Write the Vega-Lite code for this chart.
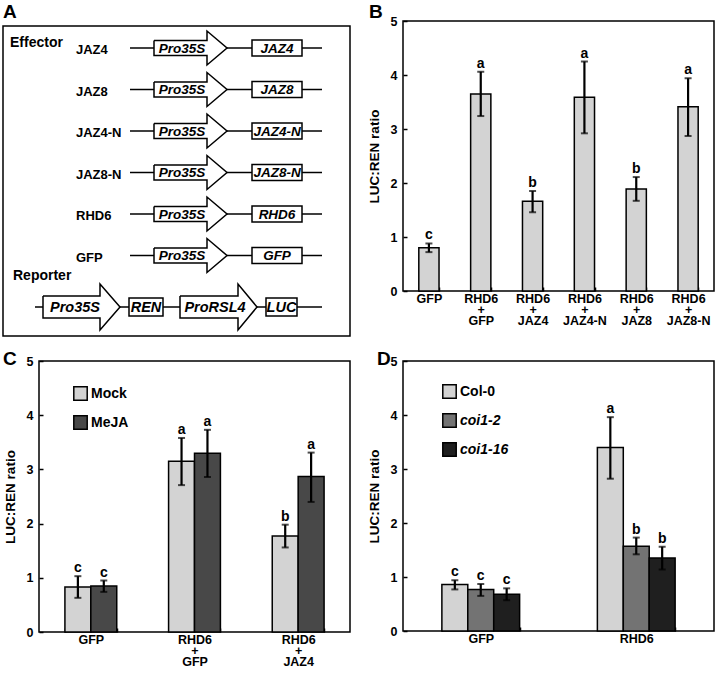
{
  "$schema": "https://vega.github.io/schema/vega-lite/v6.json",
  "background": "white",
  "padding": {"left": 2, "top": 2, "right": 0, "bottom": 0},
  "columns": 2,
  "bounds": "flush",
  "align": "each",
  "spacing": {"row": 29, "column": 53},
  "resolve": {
    "scale": {"x": "independent", "y": "independent", "color": "independent", "xOffset": "independent"},
    "legend": {"color": "independent"}
  },
  "config": {
    "font": "Liberation Sans",
    "view": {"stroke": "black", "strokeWidth": 1.5},
    "axis": {
      "labelFont": "Liberation Sans", "labelFontSize": 12.5, "labelFontWeight": "bold", "labelColor": "black",
      "titleFont": "Liberation Sans", "titleFontSize": 13.5, "titleFontWeight": "bold", "titleColor": "black",
      "domain": false, "grid": false, "ticks": true, "tickColor": "black", "tickWidth": 1.5, "tickSize": -4
    },
    "axisY": {"labelPadding": 10, "titlePadding": 9},
    "axisX": {"labelPadding": 5, "labelLineHeight": 11, "labelAngle": 0},
    "title": {"anchor": "start", "frame": "group", "fontSize": 19, "font": "Liberation Sans", "fontWeight": "bold", "color": "black", "baseline": "alphabetic"},
    "legend": {
      "symbolType": "square", "symbolSize": 180, "symbolStrokeColor": "black", "symbolStrokeWidth": 1.5,
      "labelFont": "Liberation Sans", "labelFontSize": 14, "labelFontWeight": "bold", "labelColor": "black",
      "rowPadding": 8, "labelOffset": 3, "padding": 0, "symbolOpacity": 1
    }
  },
  "datasets": {
    "aFrame": [{"x": 0, "x2": 347, "y": 1, "y2": 311}],
    "aLines": [
      {"x": 127, "x2": 151, "y": 23}, {"x": 224, "x2": 249, "y": 23}, {"x": 299, "x2": 319, "y": 23},
      {"x": 127, "x2": 151, "y": 64.5}, {"x": 224, "x2": 249, "y": 64.5}, {"x": 299, "x2": 319, "y": 64.5},
      {"x": 127, "x2": 151, "y": 106}, {"x": 224, "x2": 249, "y": 106}, {"x": 299, "x2": 319, "y": 106},
      {"x": 127, "x2": 151, "y": 147.5}, {"x": 224, "x2": 249, "y": 147.5}, {"x": 299, "x2": 319, "y": 147.5},
      {"x": 127, "x2": 151, "y": 189}, {"x": 224, "x2": 249, "y": 189}, {"x": 299, "x2": 319, "y": 189},
      {"x": 127, "x2": 151, "y": 230.5}, {"x": 224, "x2": 249, "y": 230.5}, {"x": 299, "x2": 319, "y": 230.5},
      {"x": 32, "x2": 40, "y": 282}, {"x": 117, "x2": 126, "y": 282}, {"x": 160, "x2": 177, "y": 282},
      {"x": 254, "x2": 263, "y": 282}, {"x": 294, "x2": 319, "y": 282}
    ],
    "aBoxes": [
      {"x": 249, "x2": 299, "y": 15, "y2": 31},
      {"x": 249, "x2": 299, "y": 56.5, "y2": 72.5},
      {"x": 249, "x2": 299, "y": 98, "y2": 114},
      {"x": 249, "x2": 299, "y": 139.5, "y2": 155.5},
      {"x": 249, "x2": 299, "y": 181, "y2": 197},
      {"x": 249, "x2": 299, "y": 222.5, "y2": 238.5},
      {"x": 126, "x2": 160, "y": 273, "y2": 291},
      {"x": 263, "x2": 294, "y": 273, "y2": 291}
    ],
    "aArrows": [
      {"id": 1, "i": 0, "x": 151, "y": 15.5}, {"id": 1, "i": 1, "x": 204, "y": 15.5}, {"id": 1, "i": 2, "x": 204, "y": 6}, {"id": 1, "i": 3, "x": 224, "y": 23}, {"id": 1, "i": 4, "x": 204, "y": 40}, {"id": 1, "i": 5, "x": 204, "y": 30.5}, {"id": 1, "i": 6, "x": 151, "y": 30.5}, {"id": 1, "i": 7, "x": 151, "y": 15.5},
      {"id": 2, "i": 0, "x": 151, "y": 57}, {"id": 2, "i": 1, "x": 204, "y": 57}, {"id": 2, "i": 2, "x": 204, "y": 47.5}, {"id": 2, "i": 3, "x": 224, "y": 64.5}, {"id": 2, "i": 4, "x": 204, "y": 81.5}, {"id": 2, "i": 5, "x": 204, "y": 72}, {"id": 2, "i": 6, "x": 151, "y": 72}, {"id": 2, "i": 7, "x": 151, "y": 57},
      {"id": 3, "i": 0, "x": 151, "y": 98.5}, {"id": 3, "i": 1, "x": 204, "y": 98.5}, {"id": 3, "i": 2, "x": 204, "y": 89}, {"id": 3, "i": 3, "x": 224, "y": 106}, {"id": 3, "i": 4, "x": 204, "y": 123}, {"id": 3, "i": 5, "x": 204, "y": 113.5}, {"id": 3, "i": 6, "x": 151, "y": 113.5}, {"id": 3, "i": 7, "x": 151, "y": 98.5},
      {"id": 4, "i": 0, "x": 151, "y": 140}, {"id": 4, "i": 1, "x": 204, "y": 140}, {"id": 4, "i": 2, "x": 204, "y": 130.5}, {"id": 4, "i": 3, "x": 224, "y": 147.5}, {"id": 4, "i": 4, "x": 204, "y": 164.5}, {"id": 4, "i": 5, "x": 204, "y": 155}, {"id": 4, "i": 6, "x": 151, "y": 155}, {"id": 4, "i": 7, "x": 151, "y": 140},
      {"id": 5, "i": 0, "x": 151, "y": 181.5}, {"id": 5, "i": 1, "x": 204, "y": 181.5}, {"id": 5, "i": 2, "x": 204, "y": 172}, {"id": 5, "i": 3, "x": 224, "y": 189}, {"id": 5, "i": 4, "x": 204, "y": 206}, {"id": 5, "i": 5, "x": 204, "y": 196.5}, {"id": 5, "i": 6, "x": 151, "y": 196.5}, {"id": 5, "i": 7, "x": 151, "y": 181.5},
      {"id": 6, "i": 0, "x": 151, "y": 223}, {"id": 6, "i": 1, "x": 204, "y": 223}, {"id": 6, "i": 2, "x": 204, "y": 213.5}, {"id": 6, "i": 3, "x": 224, "y": 230.5}, {"id": 6, "i": 4, "x": 204, "y": 247.5}, {"id": 6, "i": 5, "x": 204, "y": 238}, {"id": 6, "i": 6, "x": 151, "y": 238}, {"id": 6, "i": 7, "x": 151, "y": 223},
      {"id": 7, "i": 0, "x": 40, "y": 271}, {"id": 7, "i": 1, "x": 97, "y": 271}, {"id": 7, "i": 2, "x": 97, "y": 259}, {"id": 7, "i": 3, "x": 117, "y": 282}, {"id": 7, "i": 4, "x": 97, "y": 305}, {"id": 7, "i": 5, "x": 97, "y": 293}, {"id": 7, "i": 6, "x": 40, "y": 293}, {"id": 7, "i": 7, "x": 40, "y": 271},
      {"id": 8, "i": 0, "x": 177, "y": 271}, {"id": 8, "i": 1, "x": 235, "y": 271}, {"id": 8, "i": 2, "x": 235, "y": 259}, {"id": 8, "i": 3, "x": 254, "y": 282}, {"id": 8, "i": 4, "x": 235, "y": 305}, {"id": 8, "i": 5, "x": 235, "y": 293}, {"id": 8, "i": 6, "x": 177, "y": 293}, {"id": 8, "i": 7, "x": 177, "y": 271}
    ],
    "aHeads": [{"x": 7, "y": 17.5, "t": "Effector"}, {"x": 10, "y": 251, "t": "Reporter"}],
    "aRowLabels": [
      {"x": 73, "y": 25, "t": "JAZ4"}, {"x": 73, "y": 66.5, "t": "JAZ8"}, {"x": 73, "y": 108, "t": "JAZ4-N"},
      {"x": 73, "y": 149.5, "t": "JAZ8-N"}, {"x": 73, "y": 191, "t": "RHD6"}, {"x": 73, "y": 232.5, "t": "GFP"}
    ],
    "aEffTexts": [
      {"x": 179, "y": 23.5, "t": "Pro35S"}, {"x": 274, "y": 23.5, "t": "JAZ4"},
      {"x": 179, "y": 65, "t": "Pro35S"}, {"x": 274, "y": 65, "t": "JAZ8"},
      {"x": 179, "y": 106.5, "t": "Pro35S"}, {"x": 274, "y": 106.5, "t": "JAZ4-N"},
      {"x": 179, "y": 148, "t": "Pro35S"}, {"x": 274, "y": 148, "t": "JAZ8-N"},
      {"x": 179, "y": 189.5, "t": "Pro35S"}, {"x": 274, "y": 189.5, "t": "RHD6"},
      {"x": 179, "y": 231, "t": "Pro35S"}, {"x": 274, "y": 231, "t": "GFP"}
    ],
    "aRepTexts": [
      {"x": 72, "y": 283, "t": "Pro35S"}, {"x": 143, "y": 283, "t": "REN"},
      {"x": 212, "y": 283, "t": "ProRSL4"}, {"x": 278.5, "y": 283, "t": "LUC"}
    ],
    "bData": [
      {"cond": "GFP", "v": 0.8, "lo": 0.72, "hi": 0.88, "sig": "c"},
      {"cond": "RHD6|+|GFP", "v": 3.65, "lo": 3.24, "hi": 4.06, "sig": "a"},
      {"cond": "RHD6|+|JAZ4", "v": 1.66, "lo": 1.46, "hi": 1.85, "sig": "b"},
      {"cond": "RHD6|+|JAZ4-N", "v": 3.59, "lo": 2.92, "hi": 4.25, "sig": "a"},
      {"cond": "RHD6|+|JAZ8", "v": 1.89, "lo": 1.67, "hi": 2.11, "sig": "b"},
      {"cond": "RHD6|+|JAZ8-N", "v": 3.41, "lo": 2.87, "hi": 3.94, "sig": "a"}
    ],
    "cData": [
      {"grp": "GFP", "trt": "Mock", "v": 0.83, "lo": 0.63, "hi": 1.03, "sig": "c"},
      {"grp": "GFP", "trt": "MeJA", "v": 0.85, "lo": 0.74, "hi": 0.95, "sig": "c"},
      {"grp": "RHD6|+|GFP", "trt": "Mock", "v": 3.15, "lo": 2.71, "hi": 3.58, "sig": "a"},
      {"grp": "RHD6|+|GFP", "trt": "MeJA", "v": 3.3, "lo": 2.86, "hi": 3.73, "sig": "a"},
      {"grp": "RHD6|+|JAZ4", "trt": "Mock", "v": 1.77, "lo": 1.56, "hi": 1.98, "sig": "b"},
      {"grp": "RHD6|+|JAZ4", "trt": "MeJA", "v": 2.87, "lo": 2.4, "hi": 3.31, "sig": "a"}
    ],
    "dData": [
      {"grp": "GFP", "gt": "Col-0", "v": 0.86, "lo": 0.77, "hi": 0.94, "sig": "c"},
      {"grp": "GFP", "gt": "coi1-2", "v": 0.77, "lo": 0.65, "hi": 0.87, "sig": "c"},
      {"grp": "GFP", "gt": "coi1-16", "v": 0.68, "lo": 0.57, "hi": 0.79, "sig": "c"},
      {"grp": "RHD6", "gt": "Col-0", "v": 3.4, "lo": 2.82, "hi": 3.96, "sig": "a"},
      {"grp": "RHD6", "gt": "coi1-2", "v": 1.57, "lo": 1.42, "hi": 1.73, "sig": "b"},
      {"grp": "RHD6", "gt": "coi1-16", "v": 1.35, "lo": 1.14, "hi": 1.56, "sig": "b"}
    ]
  },
  "concat": [
    {
      "width": 311, "height": 311,
      "view": {"stroke": null},
      "title": {"text": "A", "dx": -36, "offset": -7},
      "layer": [
        {
          "data": {"name": "aLines"},
          "mark": {"type": "rule", "color": "black", "strokeWidth": 1.5},
          "encoding": {
            "x": {"field": "x", "type": "quantitative", "scale": {"domain": [36, 347], "zero": false, "nice": false}, "axis": null},
            "x2": {"field": "x2"},
            "y": {"field": "y", "type": "quantitative", "scale": {"domain": [-4, 307], "reverse": true, "zero": false, "nice": false},
                  "axis": {"values": [-4], "labelExpr": "'5'", "labelColor": "transparent", "ticks": false, "title": null}}
          }
        },
        {
          "data": {"name": "aFrame"},
          "mark": {"type": "rect", "filled": false, "color": "black", "strokeWidth": 1.5},
          "encoding": {
            "x": {"field": "x", "type": "quantitative", "scale": {"domain": [36, 347], "zero": false, "nice": false}, "axis": null},
            "x2": {"field": "x2"},
            "y": {"field": "y", "type": "quantitative", "scale": {"domain": [-4, 307], "reverse": true, "zero": false, "nice": false}, "title": null},
            "y2": {"field": "y2"}
          }
        },
        {
          "data": {"name": "aBoxes"},
          "mark": {"type": "rect", "fill": "white", "stroke": "black", "strokeWidth": 1.5},
          "encoding": {
            "x": {"field": "x", "type": "quantitative", "scale": {"domain": [36, 347], "zero": false, "nice": false}, "axis": null},
            "x2": {"field": "x2"},
            "y": {"field": "y", "type": "quantitative", "scale": {"domain": [-4, 307], "reverse": true, "zero": false, "nice": false}, "title": null},
            "y2": {"field": "y2"}
          }
        },
        {
          "data": {"name": "aArrows"},
          "mark": {"type": "line", "color": "black", "strokeWidth": 1.5, "strokeJoin": "miter"},
          "encoding": {
            "x": {"field": "x", "type": "quantitative", "scale": {"domain": [36, 347], "zero": false, "nice": false}, "axis": null},
            "y": {"field": "y", "type": "quantitative", "scale": {"domain": [-4, 307], "reverse": true, "zero": false, "nice": false}, "title": null},
            "detail": {"field": "id", "type": "nominal"},
            "order": {"field": "i", "type": "quantitative"}
          }
        },
        {
          "data": {"name": "aHeads"},
          "mark": {"type": "text", "align": "left", "baseline": "middle", "fontSize": 14, "fontWeight": "bold", "color": "black"},
          "encoding": {
            "x": {"field": "x", "type": "quantitative", "scale": {"domain": [36, 347], "zero": false, "nice": false}, "axis": null},
            "y": {"field": "y", "type": "quantitative", "scale": {"domain": [-4, 307], "reverse": true, "zero": false, "nice": false}, "title": null},
            "text": {"field": "t"}
          }
        },
        {
          "data": {"name": "aRowLabels"},
          "mark": {"type": "text", "align": "left", "baseline": "middle", "fontSize": 13, "fontWeight": "bold", "color": "black"},
          "encoding": {
            "x": {"field": "x", "type": "quantitative", "scale": {"domain": [36, 347], "zero": false, "nice": false}, "axis": null},
            "y": {"field": "y", "type": "quantitative", "scale": {"domain": [-4, 307], "reverse": true, "zero": false, "nice": false}, "title": null},
            "text": {"field": "t"}
          }
        },
        {
          "data": {"name": "aEffTexts"},
          "mark": {"type": "text", "align": "center", "baseline": "middle", "fontSize": 13.5, "fontWeight": "bold", "fontStyle": "italic", "color": "black"},
          "encoding": {
            "x": {"field": "x", "type": "quantitative", "scale": {"domain": [36, 347], "zero": false, "nice": false}, "axis": null},
            "y": {"field": "y", "type": "quantitative", "scale": {"domain": [-4, 307], "reverse": true, "zero": false, "nice": false}, "title": null},
            "text": {"field": "t"}
          }
        },
        {
          "data": {"name": "aRepTexts"},
          "mark": {"type": "text", "align": "center", "baseline": "middle", "fontSize": 14.5, "fontWeight": "bold", "fontStyle": "italic", "color": "black"},
          "encoding": {
            "x": {"field": "x", "type": "quantitative", "scale": {"domain": [36, 347], "zero": false, "nice": false}, "axis": null},
            "y": {"field": "y", "type": "quantitative", "scale": {"domain": [-4, 307], "reverse": true, "zero": false, "nice": false}, "title": null},
            "text": {"field": "t"}
          }
        }
      ]
    },
    {
      "width": 311, "height": 270,
      "title": {"text": "B", "dx": -34, "offset": -7},
      "data": {"name": "bData"},
      "encoding": {
        "x": {"field": "cond", "type": "nominal", "sort": null, "title": null,
              "scale": {"paddingInner": 0.61, "paddingOuter": 0.305},
              "axis": {"labelExpr": "split(datum.label, '|')", "tickBand": "extent", "tickOffset": -15.8}}
      },
      "layer": [
        {
          "mark": {"type": "bar", "color": "#d3d3d3", "stroke": "black", "strokeWidth": 1.5},
          "encoding": {"y": {"field": "v", "type": "quantitative", "title": "LUC:REN ratio", "scale": {"domain": [0, 5]}, "axis": {"values": [0, 1, 2, 3, 4, 5]}}}
        },
        {
          "mark": {"type": "rule", "color": "black", "strokeWidth": 2.2},
          "encoding": {"y": {"field": "lo", "type": "quantitative", "title": "LUC:REN ratio"}, "y2": {"field": "hi"}}
        },
        {
          "mark": {"type": "tick", "color": "black", "thickness": 2, "size": 7},
          "encoding": {"y": {"field": "lo", "type": "quantitative", "title": "LUC:REN ratio"}}
        },
        {
          "mark": {"type": "tick", "color": "black", "thickness": 2, "size": 7},
          "encoding": {"y": {"field": "hi", "type": "quantitative", "title": "LUC:REN ratio"}}
        },
        {
          "mark": {"type": "text", "baseline": "alphabetic", "dy": -4, "fontSize": 14, "fontWeight": "bold", "color": "black"},
          "encoding": {"y": {"field": "hi", "type": "quantitative", "title": "LUC:REN ratio"}, "text": {"field": "sig"}}
        }
      ]
    },
    {
      "width": 311, "height": 271,
      "title": {"text": "C", "dx": -36, "offset": -14},
      "data": {"name": "cData"},
      "encoding": {
        "x": {"field": "grp", "type": "nominal", "sort": null, "title": null,
              "scale": {"paddingInner": 0.5, "paddingOuter": 0.25},
              "axis": {"labelExpr": "split(datum.label, '|')", "tickBand": "extent", "tickOffset": -26}},
        "xOffset": {"field": "trt", "type": "nominal", "sort": ["Mock", "MeJA"], "scale": {"paddingInner": 0, "paddingOuter": 0}}
      },
      "layer": [
        {
          "mark": {"type": "bar", "stroke": "black", "strokeWidth": 1.5},
          "encoding": {
            "y": {"field": "v", "type": "quantitative", "title": "LUC:REN ratio", "scale": {"domain": [0, 5]}, "axis": {"values": [0, 1, 2, 3, 4, 5]}},
            "color": {"field": "trt", "type": "nominal", "sort": ["Mock", "MeJA"],
                      "scale": {"domain": ["Mock", "MeJA"], "range": ["#d3d3d3", "#484848"]},
                      "legend": {"title": null, "orient": "none", "legendX": 34, "legendY": 25}}
          }
        },
        {
          "mark": {"type": "rule", "color": "black", "strokeWidth": 2.2},
          "encoding": {"y": {"field": "lo", "type": "quantitative", "title": "LUC:REN ratio"}, "y2": {"field": "hi"}}
        },
        {
          "mark": {"type": "tick", "color": "black", "thickness": 2, "size": 7},
          "encoding": {"y": {"field": "lo", "type": "quantitative", "title": "LUC:REN ratio"}}
        },
        {
          "mark": {"type": "tick", "color": "black", "thickness": 2, "size": 7},
          "encoding": {"y": {"field": "hi", "type": "quantitative", "title": "LUC:REN ratio"}}
        },
        {
          "mark": {"type": "text", "baseline": "alphabetic", "dy": -4, "fontSize": 14, "fontWeight": "bold", "color": "black"},
          "encoding": {"y": {"field": "hi", "type": "quantitative", "title": "LUC:REN ratio"}, "text": {"field": "sig"}}
        }
      ]
    },
    {
      "width": 311, "height": 270,
      "title": {"text": "D", "dx": -26, "offset": -14},
      "data": {"name": "dData"},
      "encoding": {
        "x": {"field": "grp", "type": "nominal", "sort": null, "title": null,
              "scale": {"paddingInner": 0.5, "paddingOuter": 0.25},
              "axis": {"tickBand": "extent", "tickOffset": -38.75}},
        "xOffset": {"field": "gt", "type": "nominal", "sort": ["Col-0", "coi1-2", "coi1-16"], "scale": {"paddingInner": 0, "paddingOuter": 0}}
      },
      "layer": [
        {
          "mark": {"type": "bar", "stroke": "black", "strokeWidth": 1.5},
          "encoding": {
            "y": {"field": "v", "type": "quantitative", "title": "LUC:REN ratio", "scale": {"domain": [0, 5]}, "axis": {"values": [0, 1, 2, 3, 4, 5]}},
            "color": {"field": "gt", "type": "nominal", "sort": ["Col-0", "coi1-2", "coi1-16"],
                      "scale": {"domain": ["Col-0", "coi1-2", "coi1-16"], "range": ["#d3d3d3", "#737373", "#1f1f1f"]},
                      "legend": {"title": null, "orient": "none", "legendX": 39, "legendY": 23,
                                 "encode": {"labels": {"update": {"fontStyle": {"signal": "datum.label === 'Col-0' ? 'normal' : 'italic'"}}}}}}
          }
        },
        {
          "mark": {"type": "rule", "color": "black", "strokeWidth": 2.2},
          "encoding": {"y": {"field": "lo", "type": "quantitative", "title": "LUC:REN ratio"}, "y2": {"field": "hi"}}
        },
        {
          "mark": {"type": "tick", "color": "black", "thickness": 2, "size": 7},
          "encoding": {"y": {"field": "lo", "type": "quantitative", "title": "LUC:REN ratio"}}
        },
        {
          "mark": {"type": "tick", "color": "black", "thickness": 2, "size": 7},
          "encoding": {"y": {"field": "hi", "type": "quantitative", "title": "LUC:REN ratio"}}
        },
        {
          "mark": {"type": "text", "baseline": "alphabetic", "dy": -4, "fontSize": 14, "fontWeight": "bold", "color": "black"},
          "encoding": {"y": {"field": "hi", "type": "quantitative", "title": "LUC:REN ratio"}, "text": {"field": "sig"}}
        }
      ]
    }
  ]
}
